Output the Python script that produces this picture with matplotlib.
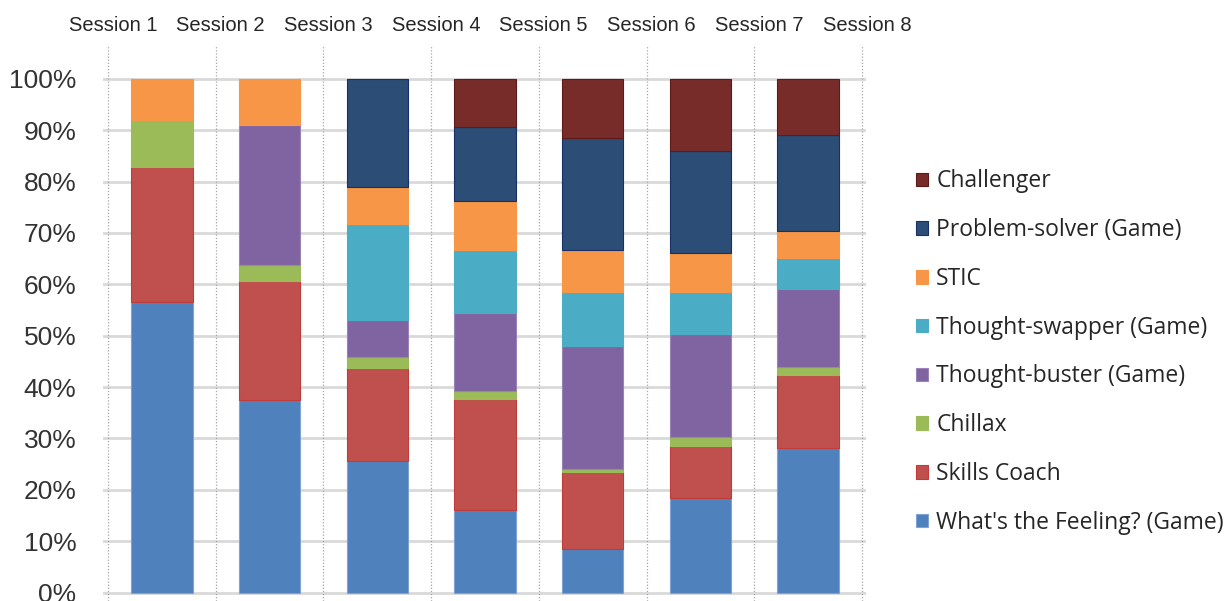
import matplotlib
matplotlib.use("Agg")
import matplotlib.pyplot as plt
from matplotlib.patches import Patch
import numpy as np

# Share of module use per session (%), one list per module, bottom to top
sessions = ["Session 1", "Session 2", "Session 3", "Session 4",
            "Session 5", "Session 6", "Session 7", "Session 8"]
modules = ["What's the Feeling? (Game)", "Skills Coach", "Chillax",
           "Thought-buster (Game)", "Thought-swapper (Game)", "STIC",
           "Problem-solver (Game)", "Challenger"]

whats_the_feeling = [56.6, 37.4, 25.7, 16.0, 8.4, 18.5, 28.2]
skills_coach      = [26.3, 23.2, 18.1, 21.7, 15.1, 10.1, 14.2]
chillax           = [9.1, 3.1, 2.1, 1.6, 0.6, 1.6, 1.6]
thought_buster    = [0.0, 27.3, 7.1, 15.2, 23.8, 20.2, 15.1]
thought_swapper   = [0.0, 0.0, 18.7, 12.2, 10.7, 8.2, 6.0]
stic              = [8.0, 9.0, 7.2, 9.6, 8.1, 7.6, 5.2]
problem_solver    = [0.0, 0.0, 21.1, 14.3, 21.8, 19.8, 18.7]
challenger        = [0.0, 0.0, 0.0, 9.4, 11.5, 14.0, 11.0]

series = [whats_the_feeling, skills_coach, chillax, thought_buster,
          thought_swapper, stic, problem_solver, challenger]
colors = ["#4F81BD", "#C0504D", "#9BBB59", "#8064A2",
          "#4BACC6", "#F79646", "#2C4D75", "#772C2A"]
edges = ["#7FA3D6", "#C23B38", "#9BBB59", "#9A82BA",
         "#4BACC6", "#F79646", "#17306A", "#5E1A18"]

fig = plt.figure(figsize=(12.32, 6.01), dpi=100)
ax = fig.add_axes([103 / 1232, 0.0, 763 / 1232, 556 / 601])

x = np.arange(len(whats_the_feeling))
bottom = np.zeros(len(x))
for vals, c, ec in zip(series, colors, edges):
    v = np.array(vals)
    keep = v > 0
    ax.bar(x[keep], v[keep], width=0.57, bottom=bottom[keep], color=c,
           edgecolor=ec, linewidth=0.8, zorder=3)
    bottom += v

ax.set_xlim(-0.546, 6.537)
ax.set_ylim(-1.65, 106.6)

# horizontal grid
yt = np.arange(0, 101, 10)
for yy in yt:
    ax.axhline(yy, color="#d9d9d9", lw=2.0, zorder=1)

# dotted session separators with session labels on top
for i, name in enumerate(sessions):
    xp = i - 0.5
    ax.axvline(xp, color="#a6a6a6", lw=0.9, ls=(0, (1, 1.5)), zorder=2)
    ax.text(xp + 0.045, 1.035, name, transform=ax.get_xaxis_transform(),
            ha="center", va="center", fontsize=14.5,
            family="Liberation Sans", color="#262626", clip_on=False)

ax.set_yticks(yt)
ax.set_yticklabels([f"{v}%" for v in yt], fontsize=19,
                   family="Liberation Sans", color="#333333")
ax.tick_params(axis="y", length=0, pad=19)
ax.set_xticks([])
for s in ax.spines.values():
    s.set_visible(False)

handles = [Patch(facecolor=c, edgecolor=ec, linewidth=0.8)
           for c, ec in zip(colors, edges)]
leg = fig.legend(handles[::-1], modules[::-1], loc="center left",
                 bbox_to_anchor=(916 / 1232, 1 - 352 / 601), frameon=False,
                 prop={"family": "Open Sans", "size": 16.5},
                 handlelength=0.53, handleheight=0.53, handletextpad=0.35,
                 labelspacing=1.08, borderpad=0, borderaxespad=0)
for t in leg.get_texts():
    t.set_color("#262626")

fig.savefig("out.png", dpi=100)
